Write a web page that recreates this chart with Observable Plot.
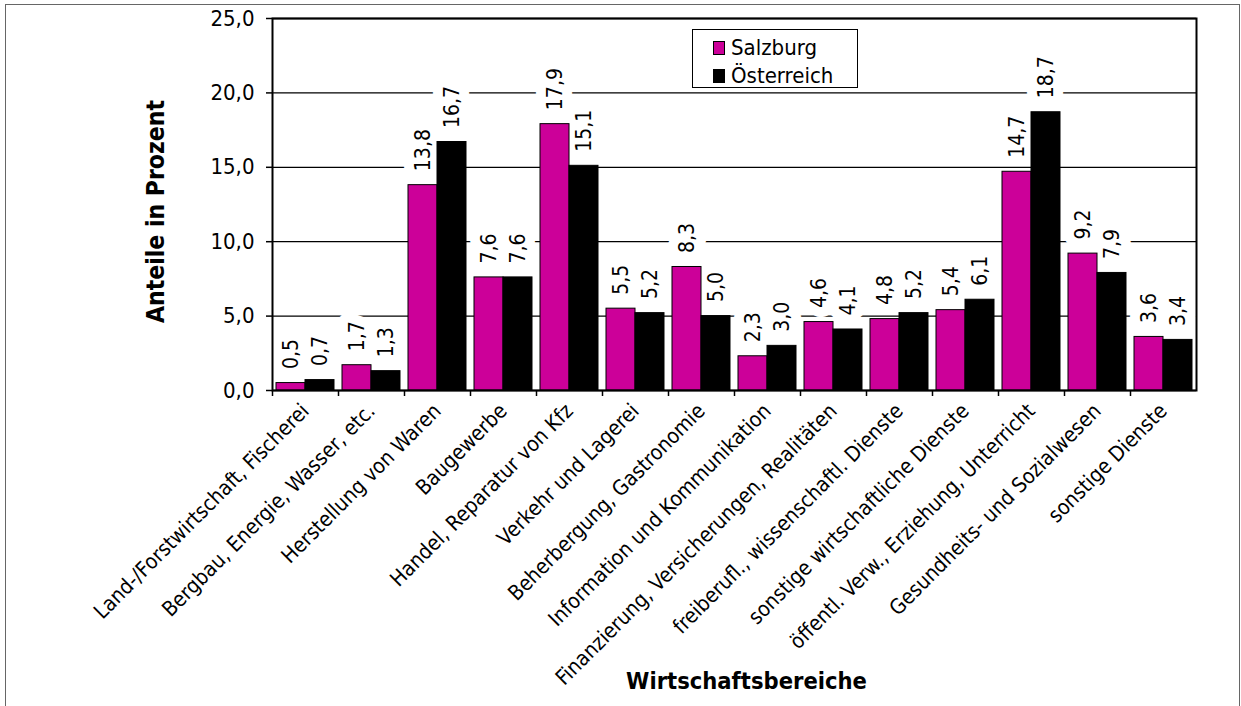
<!DOCTYPE html>
<html>
<head>
<meta charset="utf-8">
<script src="https://cdn.jsdelivr.net/npm/d3@7"></script>
<script src="https://cdn.jsdelivr.net/npm/@observablehq/plot@0.6"></script>
<style>
  html, body { margin: 0; padding: 0; background: #fff; }
  #wrap { position: relative; width: 1241px; height: 706px; overflow: hidden;
          font-family: "DejaVu Sans Condensed", "DejaVu Sans", sans-serif; }
  #border { position: absolute; left: 5px; top: 4px; width: 1233px; height: 730px;
            border: 1px solid #666; pointer-events: none; }
  #legend { position: absolute; left: 692px; top: 29px; width: 166px; height: 59px;
            border: 1.5px solid #000; background: #fff; box-sizing: border-box;
            padding: 4px 0 0 20px; font-size: 22px; line-height: 28px; color: #000; }
  #legend .item { display: flex; align-items: center; white-space: nowrap; }
  #legend .sw { width: 12px; height: 14px; border: 1px solid #000; margin-right: 6px; box-sizing: border-box; }
  svg [aria-label="y-axis label"] text { font-weight: bold; font-size: 24.5px; }
  svg [aria-label="x-axis label"] text { font-weight: bold; font-size: 23.5px; }
</style>
</head>
<body>
<div id="wrap">
  <div id="chart"></div>
  <div id="legend"></div>
  <div id="border"></div>
</div>
<script>
const categories = [
  "Land-/Forstwirtschaft, Fischerei",
  "Bergbau, Energie, Wasser, etc.",
  "Herstellung von Waren",
  "Baugewerbe",
  "Handel, Reparatur von Kfz",
  "Verkehr und Lagerei",
  "Beherbergung, Gastronomie",
  "Information und Kommunikation",
  "Finanzierung, Versicherungen, Realitäten",
  "freiberufl., wissenschaftl. Dienste",
  "sonstige wirtschaftliche Dienste",
  "öffentl. Verw., Erziehung, Unterricht",
  "Gesundheits- und Sozialwesen",
  "sonstige Dienste"
];
const salzburg    = [0.5, 1.7, 13.8, 7.6, 17.9, 5.5, 8.3, 2.3, 4.6, 4.8, 5.4, 14.7, 9.2, 3.6];
const oesterreich = [0.7, 1.3, 16.7, 7.6, 15.1, 5.2, 5.0, 3.0, 4.1, 5.2, 6.1, 18.7, 7.9, 3.4];
const seriesNames = ["Salzburg", "Österreich"];
const seriesColors = ["#cc0099", "#000000"];
const yTicks = [0, 5, 10, 15, 20, 25];
const xTitle = "Wirtschaftsbereiche";
const yTitle = "Anteile in Prozent";

const dataS = categories.map((c, i) => ({cat: c, series: seriesNames[0], value: salzburg[i]}));
const dataO = categories.map((c, i) => ({cat: c, series: seriesNames[1], value: oesterreich[i]}));

const W = 1241, H = 706;
const mL = 272, mR = 45, mT = 18, mB = 316;
const step = (W - mL - mR) / categories.length;
const gapOuter = 4, barW = (step - 2 * gapOuter) / 2;

const fmt = v => d3.format(".1f")(v).replace(".", ",");

const font = '"DejaVu Sans Condensed", "DejaVu Sans", sans-serif';

const labelOpts = (dx) => ({
  x: "cat", y: "value", text: d => fmt(d.value),
  rotate: -90, textAnchor: "start", dx, dy: -14,
  fontSize: 21, fill: "#000", stroke: "white", strokeWidth: 20, paintOrder: "stroke"
});

const plot = Plot.plot({
  width: W, height: H,
  marginLeft: mL, marginRight: mR, marginTop: mT, marginBottom: mB,
  style: {fontFamily: font, fontSize: "21px", color: "#000", background: "white", overflow: "visible"},
  x: {type: "band", domain: categories, padding: 0},
  y: {domain: [0, 25]},
  marks: [
    Plot.ruleY(yTicks, {stroke: "#000", strokeWidth: 1.3}),
    Plot.text(dataS, labelOpts(-(step / 2 - gapOuter - barW / 2))),
    Plot.text(dataO, labelOpts(step / 2 - gapOuter - barW / 2)),
    Plot.barY(dataS, {x: "cat", y: "value", fill: seriesColors[0], stroke: "#000", strokeWidth: 1,
                      insetLeft: gapOuter, insetRight: gapOuter + barW}),
    Plot.barY(dataO, {x: "cat", y: "value", fill: seriesColors[1], stroke: "#000", strokeWidth: 1,
                      insetLeft: gapOuter + barW, insetRight: gapOuter}),
    Plot.axisY({ticks: yTicks, tickFormat: fmt, tickSize: 6, tickPadding: 12, fontSize: 22,
                strokeWidth: 1.5, label: yTitle, labelAnchor: "center", labelOffset: 126, labelArrow: "none"}),
    Plot.axisX({tickSize: 6, dx: -step / 2, tickFormat: () => "", strokeWidth: 1.5, label: null}),
    Plot.axisX({tickSize: 0, tickPadding: 17, tickRotate: -45, fontSize: 21,
                label: xTitle, labelAnchor: "center", labelOffset: 298, labelArrow: "none"}),
    Plot.frame({stroke: "#000", strokeWidth: 2})
  ]
});
document.getElementById("chart").appendChild(plot);

// nudge the axis titles slightly, keeping Plot's own placement transform
const yLab = plot.querySelector('[aria-label="y-axis label"]');
if (yLab) yLab.setAttribute("transform", (yLab.getAttribute("transform") || "") + " translate(0,7)");
const xLab = plot.querySelector('[aria-label="x-axis label"]');
if (xLab) xLab.setAttribute("transform", (xLab.getAttribute("transform") || "") + " translate(12,0)");

const legend = document.getElementById("legend");
seriesNames.forEach((name, i) => {
  const item = document.createElement("div");
  item.className = "item";
  const sw = document.createElement("span");
  sw.className = "sw";
  sw.style.background = seriesColors[i];
  const t = document.createElement("span");
  t.textContent = name;
  item.appendChild(sw);
  item.appendChild(t);
  legend.appendChild(item);
});
</script>
</body>
</html>
